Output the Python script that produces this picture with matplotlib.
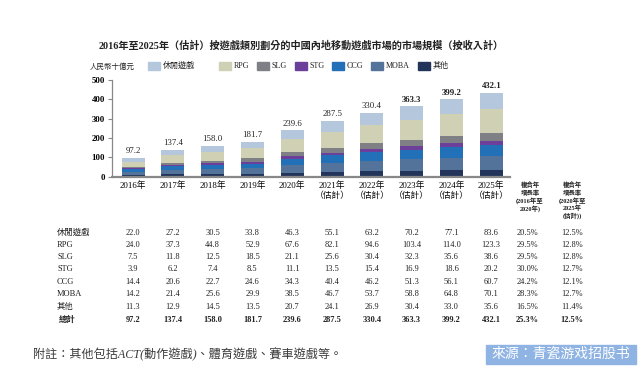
import numpy as np
import matplotlib
matplotlib.use('Agg')
import matplotlib.pyplot as plt
from matplotlib.patches import Rectangle

FAM = ['Liberation Serif', 'Noto Sans CJK TC', 'DejaVu Sans']
plt.rcParams['font.family'] = FAM

years = ['2016年', '2017年', '2018年', '2019年', '2020年',
         '2021年\n（估計）', '2022年\n（估計）', '2023年\n（估計）', '2024年\n（估計）', '2025年\n（估計）']
categories = ['休閒遊戲', 'RPG', 'SLG', 'STG', 'CCG', 'MOBA', '其他']
casual = [22.0, 27.2, 30.5, 33.8, 46.3, 55.1, 63.2, 70.2, 77.1, 83.6]
rpg = [24.0, 37.3, 44.8, 52.9, 67.6, 82.1, 94.6, 103.4, 114.0, 123.3]
slg = [7.5, 11.8, 12.5, 18.5, 21.1, 25.6, 30.4, 32.3, 35.6, 38.6]
stg = [3.9, 6.2, 7.4, 8.5, 11.1, 13.5, 15.4, 16.9, 18.6, 20.2]
ccg = [14.4, 20.6, 22.7, 24.6, 34.3, 40.4, 46.2, 51.3, 56.1, 60.7]
moba = [14.2, 21.4, 25.6, 29.9, 38.5, 46.7, 53.7, 58.8, 64.8, 70.1]
other = [11.3, 12.9, 14.5, 13.5, 20.7, 24.1, 26.9, 30.4, 33.0, 35.6]
totals = [97.2, 137.4, 158.0, 181.7, 239.6, 287.5, 330.4, 363.3, 399.2, 432.1]
cagr_1620 = ['20.5%', '29.5%', '29.5%', '30.0%', '24.2%', '28.3%', '16.5%', '25.3%']
cagr_2025 = ['12.5%', '12.8%', '12.8%', '12.7%', '12.1%', '12.7%', '11.4%', '12.5%']

series = [casual, rpg, slg, stg, ccg, moba, other]
colors = ['#b5c7dd', '#cfd0b4', '#7f8086', '#6b3f9a', '#2170b8', '#53739a', '#223459']

W, H = 641, 379
fig = plt.figure(figsize=(W / 100, H / 100), dpi=100)
fig.patch.set_facecolor('white')

def fx(x):
    return x / W

def fy(y):
    return 1 - y / H

def txt(x, y, s, size=6, ha='center', weight='normal', color='#222222', **kw):
    fig.text(fx(x), fy(y), s, fontsize=size, ha=ha, va='center',
             fontweight=weight, color=color, family=FAM, **kw)

# bar axes
ax = fig.add_axes([fx(112), fy(176.7), (510 - 112) / W, (176.7 - 80) / H])
x = np.arange(len(years))
bottom = np.zeros(len(years))
for vals, col in zip(series[::-1], colors[::-1]):
    ax.bar(x, vals, 0.58, bottom=bottom, color=col, edgecolor='none')
    bottom += np.array(vals)
for xi, t in zip(x, totals):
    ax.annotate(f'{t:.1f}', (xi, bottom[xi]), xytext=(0, 2), textcoords='offset points',
                ha='center', va='bottom', fontsize=6.3, color='#222222',
                fontweight='bold' if xi >= 7 else 'normal')
ax.set_xlim(-0.53, 9.47)
ax.set_ylim(0, 500)
ax.set_yticks([0, 100, 200, 300, 400, 500])
ax.set_yticklabels(['0', '100', '200', '300', '400', '500'], fontsize=6.3, fontweight='bold')
ax.set_xticks(x)
ax.set_xticklabels(years, fontsize=6.3, linespacing=1.2)
ax.tick_params(axis='x', length=0, pad=3)
ax.tick_params(axis='y', length=3, width=0.8, color='#888888', pad=2)
for s in ['top', 'right']:
    ax.spines[s].set_visible(False)
ax.spines['left'].set_color('#888888')
ax.spines['left'].set_linewidth(0.9)
ax.spines['bottom'].set_color('#888888')
ax.spines['bottom'].set_linewidth(1.6)
ax.set_facecolor('none')

# title and legend
txt(301, 46, '2016年至2025年（估計）按遊戲類別劃分的中國內地移動遊戲市場的市場規模（按收入計）',
    size=7.3, weight='bold')
txt(90, 66, '人民幣十億元', size=5.4, ha='left')
leg_x = [148, 219, 257, 295, 332, 371, 418]
for lx, name, col in zip(leg_x, categories, colors):
    fig.patches.append(Rectangle((fx(lx), fy(69.5)), 12 / W, 7 / H, color=col,
                                 transform=fig.transFigure, figure=fig))
    txt(lx + 14.5, 66, name, size=5.8, ha='left')

# CAGR headers
for cx, lines in [(530, ['複合年', '增長率', '(2016年至', '2020年)']),
                  (572, ['複合年', '增長率', '(2020年至', '2025年', '(估計))'])]:
    for i, ln in enumerate(lines):
        txt(cx, 185 + i * 7.7, ln, size=4.6, weight='bold')

# table
col_x = [133 + 39.8 * i for i in range(10)]
row_y = [232.7, 244.5, 256.8, 269.3, 281.7, 294.3, 307.3, 320]
row_labels = categories + ['總計']
all_rows = series + [totals]
for r, (lab, vals, y) in enumerate(zip(row_labels, all_rows, row_y)):
    bold = 'bold' if r == 7 else 'normal'
    txt(57 if r < 7 else 59, y, lab, size=6, ha='left', weight=bold)
    for cx, v in zip(col_x, vals):
        txt(cx, y, f'{v:.1f}', size=6, weight=bold)
    txt(527, y, cagr_1620[r], size=6, weight=bold)
    txt(572, y, cagr_2025[r], size=6, weight=bold)

# footnote
txt(33, 355, '附註：其他包括ACT(動作遊戲)、體育遊戲、賽車遊戲等。', size=8.7, ha='left',
    color='#3a3a3a', style='italic')

# watermark box
fig.patches.append(Rectangle((fx(486), fy(364)), 150 / W, 19 / H, color='#8fb4e3',
                             transform=fig.transFigure, figure=fig))
fig.text(fx(561), fy(354.5), '來源：青瓷游戏招股书', fontsize=10, ha='center', va='center',
         color='white', family=FAM)

fig.savefig('out.png', dpi=100)
